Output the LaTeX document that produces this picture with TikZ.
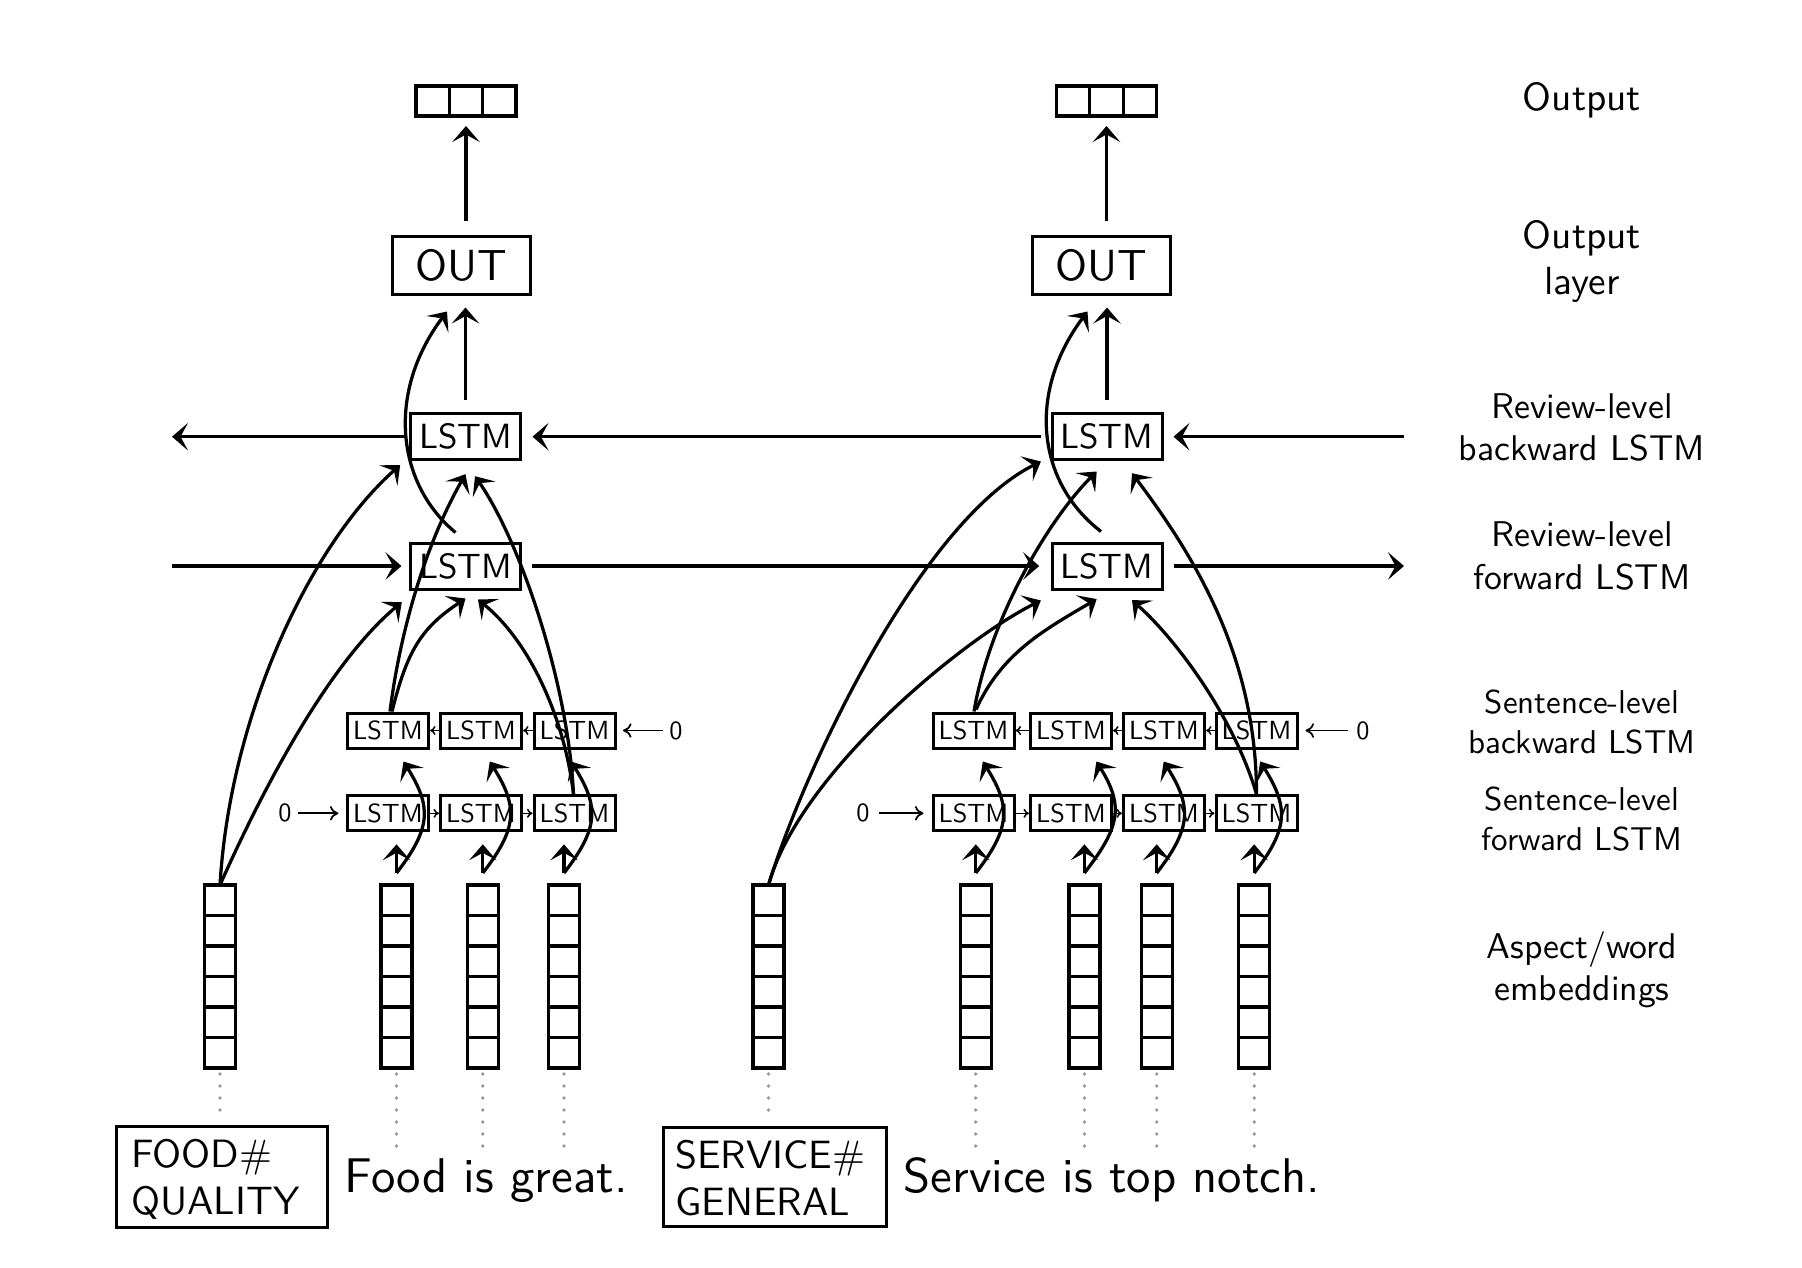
\documentclass[tikz,border=0pt]{standalone}
\usetikzlibrary{arrows.meta,calc}
\DeclareFontFamily{TU}{lmsten}{}
\DeclareFontShape{TU}{lmsten}{m}{n}{<-> "[lmsans10-regular]:mapping=tex-text"}{}
\renewcommand{\sfdefault}{lmsten}
\renewcommand{\familydefault}{\sfdefault}
\begin{document}
\begin{tikzpicture}[x=0.4pt,y=-0.4pt,
  line width=1.3pt,
  arr/.style={line width=1.3pt,-{Stealth[length=6.4pt,width=11pt,inset=3pt]}},
  rbox/.style={draw,line width=1.2pt,minimum width=44pt,minimum height=18.4pt,inner sep=0pt,font=\fontsize{14}{17}\selectfont},
  obox/.style={draw,line width=1.2pt,minimum width=55.2pt,minimum height=23.2pt,inner sep=0pt,font=\fontsize{17.4}{20}\selectfont},
  sbox/.style={draw,line width=1.2pt,minimum width=32.4pt,minimum height=14pt,inner sep=0pt,font=\fontsize{10.5}{12}\selectfont},
  vecbox/.style={draw,line width=1.3pt,minimum width=40pt,minimum height=12pt,inner sep=0pt,outer sep=0pt},
  embbox/.style={draw,line width=1.3pt,minimum width=12.4pt,minimum height=73.2pt,inner sep=0pt,outer sep=0pt},
  cell/.style={line width=1.3pt},
  sarr/.style={line width=0.6pt,-{To[length=2.2pt,width=3.6pt]}},
  zarr/.style={line width=0.7pt,-{To[length=3.4pt,width=5.8pt]}},
  zero/.style={font=\fontsize{10.5}{12}\selectfont,inner sep=1pt},
  tlbl/.style={font=\fontsize{15.7}{19}\selectfont,anchor=base,inner sep=0pt},
  lbl/.style={font=\fontsize{14.3}{17}\selectfont,anchor=base,inner sep=0pt},
  slbl/.style={font=\fontsize{13.2}{16}\selectfont,anchor=base,inner sep=0pt},
  dotline/.style={draw=black!40,line width=1.5pt,line cap=round,dash pattern=on 0pt off 4.8pt},
  aspbox/.style={draw,line width=1.2pt,inner sep=0pt},
  asptxt/.style={font=\fontsize{15.8}{19}\selectfont,anchor=base west,inner sep=0pt},
  sent/.style={font=\fontsize{19.5}{23}\selectfont,anchor=base west,inner sep=0pt}
]
\useasboundingbox (0,0) rectangle (1802,1268);

% ---------- output vectors and OUT layer
\node[vecbox] (vA) at (466,101) {};
\node[vecbox] (vB) at (1106.5,101) {};
\foreach \n in {vA,vB}{
  \foreach \i in {1,2}{
    \draw[cell] ($(\n.north west)!\i/3!(\n.north east)$) -- ($(\n.south west)!\i/3!(\n.south east)$);
  }
}
\node[obox] (outA) at (461,265) {OUT};
\node[obox] (outB) at (1101.5,265) {OUT};

% ---------- review-level LSTMs
\node[rbox] (rbA) at (465.5,436.7) {LSTM};
\node[rbox] (rfA) at (465.5,566) {LSTM};
\node[rbox] (rbB) at (1107,436.7) {LSTM};
\node[rbox] (rfB) at (1107,566) {LSTM};

% ---------- sentence-level LSTMs
\node[sbox] (sbA1) at (388,730.5) {LSTM};
\node[sbox] (sbA2) at (481,730.5) {LSTM};
\node[sbox] (sbA3) at (574.5,730.5) {LSTM};
\node[sbox] (sfA1) at (388,813.3) {LSTM};
\node[sbox] (sfA2) at (481,813.3) {LSTM};
\node[sbox] (sfA3) at (574.5,813.3) {LSTM};
\node[sbox] (sbB1) at (973.5,730.5) {LSTM};
\node[sbox] (sbB2) at (1071,730.5) {LSTM};
\node[sbox] (sbB3) at (1164,730.5) {LSTM};
\node[sbox] (sbB4) at (1256.5,730.5) {LSTM};
\node[sbox] (sfB1) at (973.5,813.3) {LSTM};
\node[sbox] (sfB2) at (1071,813.3) {LSTM};
\node[sbox] (sfB3) at (1164,813.3) {LSTM};
\node[sbox] (sfB4) at (1256.5,813.3) {LSTM};

% zeros
\node[zero] (zfA) at (285,813.3) {0};
\node[zero] (zbA) at (676,730.5) {0};
\node[zero] (zfB) at (863,813.3) {0};
\node[zero] (zbB) at (1363,730.5) {0};

% ---------- embeddings
\node[embbox] (eA) at (220,976.5) {};
\node[embbox] (wA1) at (396.5,976.5) {};
\node[embbox] (wA2) at (482.8,976.5) {};
\node[embbox] (wA3) at (564,976.5) {};
\node[embbox] (eB) at (768.5,976.5) {};
\node[embbox] (wB1) at (975.8,976.5) {};
\node[embbox] (wB2) at (1084.4,976.5) {};
\node[embbox] (wB3) at (1156.7,976.5) {};
\node[embbox] (wB4) at (1254.2,976.5) {};
\foreach \n in {eA,wA1,wA2,wA3,eB,wB1,wB2,wB3,wB4}{
  \foreach \i in {1,...,5}{
    \draw[cell] ($(\n.north west)!\i/6!(\n.south west)$) -- ($(\n.north east)!\i/6!(\n.south east)$);
  }
}

% ---------- bottom texts
\node[aspbox,minimum width=84.2pt,minimum height=40.4pt] (aspA) at (222.25,1176.5) {};
\node[aspbox,minimum width=89.2pt,minimum height=39.6pt] (aspB) at (774.5,1176.5) {};
\node[asptxt] (aspA1) at ($(aspA.north west)+(14,43)$) {FOOD\#};
\node[asptxt] (aspA2) at ($(aspA.north west)+(14,90)$) {QUALITY};
\node[asptxt] (aspB1) at ($(aspB.north west)+(12,43)$) {SERVICE\#};
\node[asptxt] (aspB2) at ($(aspB.north west)+(12,90)$) {GENERAL};
\node[sent] (sentA) at (343,1192) {Food is great.};
\node[sent] (sentB) at (902,1192) {Service is top notch.};

\draw[dotline] ($(eA.south)+(0,6)$) -- ($(eA.south|-aspA.north)+(0,-6)$);
\draw[dotline] ($(eB.south)+(0,6)$) -- ($(eB.south|-aspB.north)+(0,-6)$);
\foreach \n in {wA1,wA2,wA3,wB1,wB2,wB3,wB4}{
  \draw[dotline] ($(\n.south)+(0,6)$) -- ($(\n.south)+(0,82)$);
}

% ---------- right-hand labels
\node[tlbl] (lOut) at (1582,110) {Output};
\node[tlbl] (lOutL1) at (1582,248) {Output};
\node[tlbl] (lOutL2) at (1582,294.5) {layer};
\node[lbl] (lRb1) at (1582,418) {Review-level};
\node[lbl] (lRb2) at (1582,460.5) {backward LSTM};
\node[lbl] (lRf1) at (1582,546.5) {Review-level};
\node[lbl] (lRf2) at (1582,589) {forward LSTM};
\node[slbl] (lSb1) at (1582,713.5) {Sentence-level};
\node[slbl] (lSb2) at (1582,753.5) {backward LSTM};
\node[slbl] (lSf1) at (1582,810) {Sentence-level};
\node[slbl] (lSf2) at (1582,850) {forward LSTM};
\node[lbl] (lE1) at (1582,958) {Aspect/word};
\node[lbl] (lE2) at (1582,1000.5) {embeddings};

% ---------- output connections
\draw[arr] ($(vA.south|-outA.north)+(0,-14)$) -- ($(vA.south)+(0,10)$);
\draw[arr] ($(vB.south|-outB.north)+(0,-14)$) -- ($(vB.south)+(0,10)$);
\draw[arr] ($(rbA.north)+(0,-12)$) -- ($(rbA.north|-outA.south)+(0,12)$);
\draw[arr] ($(rbB.north)+(0,-12)$) -- ($(rbB.north|-outB.south)+(0,12)$);
\draw[arr] ($(rfA.north)+(-10,-9)$) .. controls +(-60,-50) and +(-60,80) .. ($(outA.south)+(-14,16)$);
\draw[arr] ($(rfB.north)+(-6,-10)$) .. controls +(-65,-50) and +(-60,80) .. ($(outB.south)+(-14,16)$);

% ---------- review-level chains
\coordinate (bwStart) at (1404,436.7);
\coordinate (bwEnd) at (172,436.7);
\coordinate (fwStart) at (172,566);
\coordinate (fwEnd) at (1404,566);
\draw[arr,shorten >=4pt] (bwStart) -- (rbB.east);
\draw[arr,shorten <=3.8pt,shorten >=4.2pt] (rbB.west) -- (rbA.east);
\draw[arr,shorten <=1.6pt] (rbA.west) -- (bwEnd);
\draw[arr,shorten >=3pt] (fwStart) -- (rfA.west);
\draw[arr,shorten <=3.8pt,shorten >=4.5pt] (rfA.east) -- (rfB.west);
\draw[arr,shorten <=4pt] (rfB.east) -- (fwEnd);

% ---------- inputs to review level (left)
\draw[arr] (eA.north) .. controls +(10,-170) and +(-90,80) .. ($(rbA.south west)+(-8.8,3.8)$);
\draw[arr] (eA.north) .. controls +(40,-90) and +(-75,63) .. ($(rfA.south west)+(-7.2,11.6)$);
\draw[arr] ($(sbA1.north)+(2,0)$) .. controls +(10,-80) and +(-40,70) .. ($(rbA.south)+(0,13)$);
\draw[arr] ($(sbA1.north)+(4,0)$) .. controls +(15,-60) and +(-45,30) .. ($(rfA.south)+(0,8)$);
\draw[arr] ($(sfA3.north)+(-1,0)$) .. controls +(-5,-110) and +(45.4,65.6) .. ($(rbA.south)+(9.5,15)$);
\draw[arr] ($(sfA3.north)+(-1,0)$) .. controls +(-8,-70) and +(55,45) .. ($(rfA.south)+(12.5,9)$);

% ---------- inputs to review level (right)
\draw[arr] (eB.north) .. controls +(35,-115) and +(-120,60) .. ($(rbB.south west)+(-9.6,0.3)$);
\draw[arr] (eB.north) .. controls +(30,-110) and +(-80,40) .. ($(rfB.south west)+(-9.6,10)$);
\draw[arr] ($(sbB1.north)+(0.5,0)$) .. controls +(15,-90) and +(-50,50) .. ($(rbB.south)+(-10.3,10.3)$);
\draw[arr] ($(sbB1.north)+(2.5,-2)$) .. controls +(25,-55) and +(-55,32) .. ($(rfB.south)+(-10.3,8.6)$);
\draw[arr] (sfB4.north) .. controls +(0,-140) and +(60,80) .. ($(rbB.south)+(25,12)$);
\draw[arr] (sfB4.north) .. controls +(-20,-70) and +(50,45) .. ($(rfB.south)+(25,9.6)$);

% ---------- embeddings to sentence level
\foreach \w/\f/\b/\dx in {wA1/sfA1/sbA1/7, wA2/sfA2/sbA2/7, wA3/sfA3/sbA3/7, wB1/sfB1/sbB1/7, wB2/sfB2/sbB2/12, wB3/sfB3/sbB3/7, wB4/sfB4/sbB4/6}{
  \draw[arr] ($(\w.north)+(0,-12)$) -- ($(\w.north|-\f.south)+(0,12)$);
  \draw[arr] ($(\w.north)+(0,-12)$) .. controls +(35,-45) and +(28,45) .. ($(\w.north|-\b.south)+(\dx,12)$);
}

% ---------- sentence-level chains
\foreach \a/\b in {sfA1/sfA2, sfA2/sfA3, sfB1/sfB2, sfB2/sfB3, sfB3/sfB4}{
  \draw[sarr] (\a.east) -- (\b.west);
}
\foreach \a/\b in {sbA2/sbA1, sbA3/sbA2, sbB2/sbB1, sbB3/sbB2, sbB4/sbB3}{
  \draw[sarr] (\a.west) -- (\b.east);
}
\draw[zarr,shorten <=1pt,shorten >=3pt] (zfA.east) -- (sfA1.west);
\draw[zarr,shorten <=1pt,shorten >=2.6pt] (zbA.west) -- (sbA3.east);
\draw[zarr,shorten <=2pt,shorten >=3.2pt] (zfB.east) -- (sfB1.west);
\draw[zarr,shorten <=1.6pt,shorten >=2.8pt] (zbB.west) -- (sbB4.east);
\end{tikzpicture}
\end{document}
